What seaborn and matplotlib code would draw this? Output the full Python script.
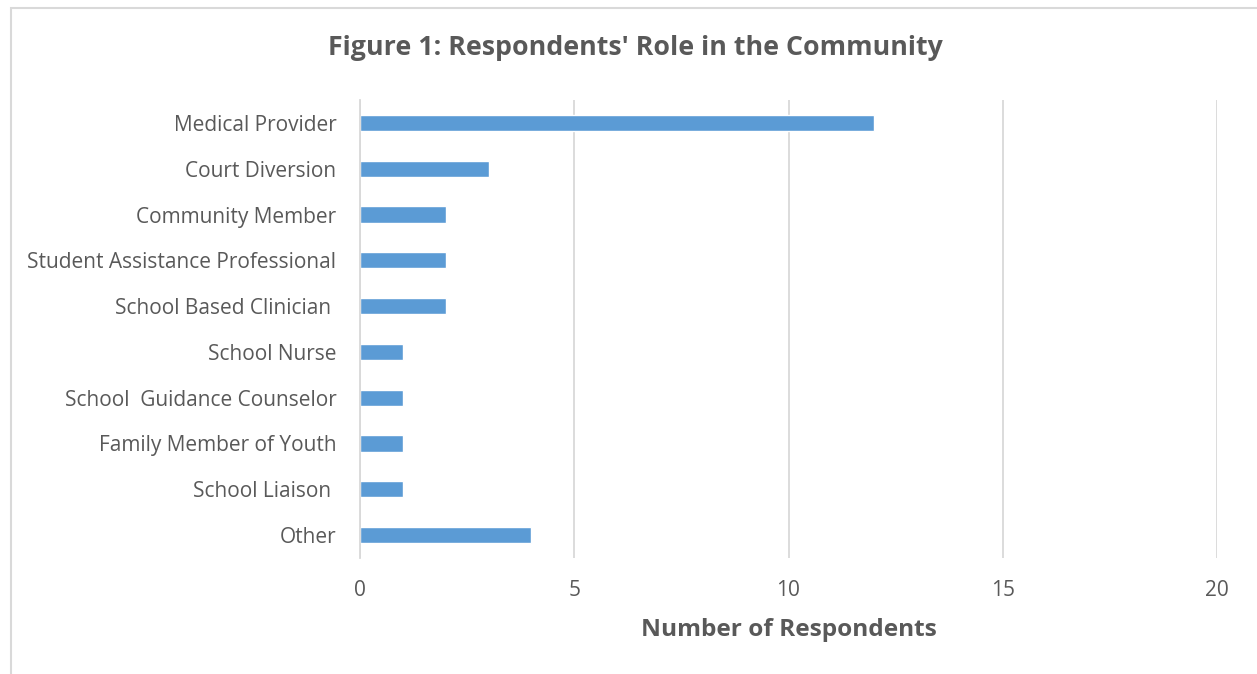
import matplotlib
matplotlib.use("Agg")
import matplotlib.pyplot as plt
import matplotlib.patches as mpatches
import pandas as pd
import seaborn as sns

# Данные с рисунка
roles = ["Medical Provider", "Court Diversion", "Community Member",
         "Student Assistance Professional", "School Based Clinician ",
         "School Nurse", "School  Guidance Counselor", "Family Member of Youth",
         "School Liaison ", "Other"]
counts = [12, 3, 2, 2, 2, 1, 1, 1, 1, 4]
x_ticks = [0, 5, 10, 15, 20]

TEXT = "#595959"
BAR = "#5B9BD5"
GRID = "#D9D9D9"

sns.set_theme(style="white")
plt.rcParams["font.family"] = ["Open Sans", "DejaVu Sans"]

df = pd.DataFrame({"role": roles, "count": counts})

fig = plt.figure(figsize=(12.57, 6.74), dpi=100)
ax = fig.add_axes([360 / 1257, 1 - 558 / 674, (1217 - 360) / 1257, (558 - 100) / 674])

sns.barplot(data=df, y="role", x="count", orient="h", color=BAR,
            width=0.35, saturation=1, ax=ax)

ax.set_xlim(0, 20)
ax.set_xticks(x_ticks)
ax.xaxis.grid(True, color=GRID, lw=1.3)
ax.set_axisbelow(True)
for s in ["top", "right", "bottom"]:
    ax.spines[s].set_visible(False)
ax.spines["left"].set_color(GRID)
ax.spines["left"].set_linewidth(1.3)
ax.tick_params(axis="both", length=0, labelsize=15, colors=TEXT)
ax.tick_params(axis="y", pad=17)
ax.tick_params(axis="x", pad=16)
ax.set_ylabel("")
ax.set_xlabel("Number of Respondents", fontsize=17.6, fontweight="bold",
              color=TEXT, labelpad=12)

fig.text(635 / 1257, 1 - 48 / 674, "Figure 1: Respondents' Role in the Community",
         ha="center", va="center", fontsize=19.3, fontweight="bold", color=TEXT)

# Рамка области диаграммы
fig.patches.append(mpatches.Rectangle((11 / 1257, -0.05), 1.1, 1 - 8 / 674 + 0.05,
                                      transform=fig.transFigure, fill=False,
                                      edgecolor="#D9D9D9", lw=1.5))

fig.savefig("out.png", dpi=100)
